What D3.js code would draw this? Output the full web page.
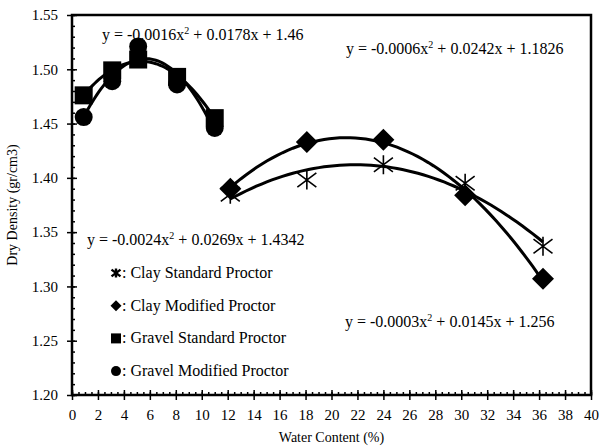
<!DOCTYPE html>
<html>
<head>
<meta charset="utf-8">
<script src="https://cdn.jsdelivr.net/npm/d3@7"></script>
<style>
  body { margin: 0; background: #fff; }
  svg, svg text { font-family: "Liberation Serif", "Times New Roman", serif; }
</style>
</head>
<body>
<div id="chart"></div>
<script>
(function () {
  'use strict';

  // data
  var gravelX = [0.9, 3.1, 5.1, 8.1, 11.0];
  var gravelStd = [1.476, 1.499, 1.509, 1.493, 1.455];
  var gravelMod = [1.456, 1.489, 1.521, 1.486, 1.446];
  var clayX = [12.2, 18.1, 24.0, 30.3, 36.3];
  var clayStd = [1.385, 1.398, 1.412, 1.395, 1.337];
  var clayMod = [1.390, 1.433, 1.435, 1.384, 1.307];

  var xTicks = d3.range(0, 41, 2);
  var yTicks = [1.20, 1.25, 1.30, 1.35, 1.40, 1.45, 1.50, 1.55];

  var legendItems = [
    { name: ': Clay Standard Proctor', marker: 'star' },
    { name: ': Clay Modified Proctor', marker: 'diamond' },
    { name: ': Gravel Standard Proctor', marker: 'square' },
    { name: ': Gravel Modified Proctor', marker: 'circle' }
  ];

  var equations = [
    { a: '-0.0016', b: '0.0178', c: '1.46', x: 102, y: 40 },
    { a: '-0.0006', b: '0.0242', c: '1.1826', x: 346, y: 54 },
    { a: '-0.0024', b: '0.0269', c: '1.4342', x: 87, y: 245 },
    { a: '-0.0003', b: '0.0145', c: '1.256', x: 345, y: 327 }
  ];

  var width = 599, height = 448;
  var margin = { top: 15, right: 8, bottom: 53, left: 72 };
  var serif = '"Liberation Serif", "Times New Roman", serif';

  var svg = d3.select('#chart').append('svg')
    .attr('width', width).attr('height', height)
    .attr('font-family', serif);

  var x = d3.scaleLinear().domain([0, 40]).range([margin.left, width - margin.right]);
  var y = d3.scaleLinear().domain([1.2, 1.55]).range([height - margin.bottom, margin.top]);

  // quadratic least squares, like a spreadsheet trendline
  function polyFit(xs, ys) {
    var s = [0, 0, 0, 0, 0], t = [0, 0, 0];
    xs.forEach(function (xv, i) {
      for (var k = 0; k < 5; k++) s[k] += Math.pow(xv, k);
      for (var j = 0; j < 3; j++) t[j] += ys[i] * Math.pow(xv, j);
    });
    var m = [[s[0], s[1], s[2], t[0]], [s[1], s[2], s[3], t[1]], [s[2], s[3], s[4], t[2]]];
    for (var c = 0; c < 3; c++) {
      for (var r = c + 1; r < 3; r++) {
        var f = m[r][c] / m[c][c];
        for (var q = c; q < 4; q++) m[r][q] -= f * m[c][q];
      }
    }
    var coef = [0, 0, 0];
    for (var r2 = 2; r2 >= 0; r2--) {
      var v = m[r2][3];
      for (var q2 = r2 + 1; q2 < 3; q2++) v -= m[r2][q2] * coef[q2];
      coef[r2] = v / m[r2][r2];
    }
    return function (xv) { return coef[0] + coef[1] * xv + coef[2] * xv * xv; };
  }

  // frame
  svg.append('rect')
    .attr('x', x(0)).attr('y', y(1.55))
    .attr('width', x(40) - x(0)).attr('height', y(1.2) - y(1.55))
    .attr('fill', 'none').attr('stroke', '#000').attr('stroke-width', 2.5);

  // x axis: labels + outward major, inward major, inward minor
  var gx = svg.append('g').attr('transform', 'translate(0,' + y(1.2) + ')');
  gx.call(d3.axisBottom(x).tickValues(xTicks).tickSize(5).tickPadding(9).tickFormat(d3.format('d')));
  gx.append('g').call(d3.axisBottom(x).tickValues(xTicks).tickSize(-5).tickFormat(''));
  gx.append('g').call(d3.axisBottom(x).tickValues(d3.range(0, 40.01, 0.5)).tickSize(-3).tickFormat(''));

  var gy = svg.append('g').attr('transform', 'translate(' + x(0) + ',0)');
  gy.call(d3.axisLeft(y).tickValues(yTicks).tickSize(5).tickPadding(9).tickFormat(d3.format('.2f')));
  gy.append('g').call(d3.axisLeft(y).tickValues(yTicks).tickSize(-5).tickFormat(''));
  gy.append('g').call(d3.axisLeft(y).tickValues(d3.range(120, 155.01, 1).map(function (v) { return v / 100; })).tickSize(-3).tickFormat(''));

  gx.attr('font-family', serif).attr('font-size', 15);
  gy.attr('font-family', serif).attr('font-size', 15);
  svg.selectAll('.domain').remove();
  svg.selectAll('.tick line').attr('stroke', '#000').attr('stroke-width', 1.5);
  svg.selectAll('.tick text').attr('fill', '#000').style('font-family', serif);

  // axis titles
  svg.append('text')
    .attr('x', (x(0) + x(40)) / 2).attr('y', 442)
    .attr('text-anchor', 'middle').attr('font-size', '14px')
    .text('Water Content (%)');
  svg.append('text')
    .attr('transform', 'translate(17,' + (y(1.2) + y(1.55)) / 2 + ') rotate(-90)')
    .attr('text-anchor', 'middle').attr('font-size', '14px')
    .text('Dry Density (gr/cm3)');

  // trendlines
  var series = [
    { xs: gravelX, ys: gravelStd, marker: 'square' },
    { xs: gravelX, ys: gravelMod, marker: 'circle' },
    { xs: clayX, ys: clayStd, marker: 'star' },
    { xs: clayX, ys: clayMod, marker: 'diamond' }
  ];

  var line = d3.line().x(function (d) { return x(d[0]); }).y(function (d) { return y(d[1]); });
  series.forEach(function (s) {
    var fit = polyFit(s.xs, s.ys);
    var lo = d3.min(s.xs), hi = d3.max(s.xs);
    var pts = d3.range(0, 61).map(function (i) {
      var xv = lo + (hi - lo) * i / 60;
      return [xv, fit(xv)];
    });
    svg.append('path').attr('d', line(pts))
      .attr('fill', 'none').attr('stroke', '#000').attr('stroke-width', 3);
  });

  function drawMarker(g, type, size) {
    if (type === 'square') {
      g.append('rect').attr('x', -size / 2).attr('y', -size / 2)
        .attr('width', size).attr('height', size).attr('fill', '#000');
    } else if (type === 'circle') {
      g.append('circle').attr('r', size / 2).attr('fill', '#000');
    } else if (type === 'diamond') {
      var h = size / 2;
      g.append('path').attr('d', 'M0,' + (-h) + 'L' + h + ',0L0,' + h + 'L' + (-h) + ',0Z').attr('fill', '#000');
    } else if (type === 'star') {
      var r = size / 2;
      g.append('path')
        .attr('d', 'M0,' + (-r) + 'V' + r + 'M' + (-r) + ',' + (-r * 0.75) + 'L' + r + ',' + (r * 0.75) +
          'M' + (-r) + ',' + (r * 0.75) + 'L' + r + ',' + (-r * 0.75))
        .attr('stroke', '#000').attr('stroke-width', size > 12 ? 1.6 : 2.4).attr('fill', 'none');
    }
  }

  var markerSize = { square: 18, circle: 18, diamond: 22, star: 19 };
  series.forEach(function (s) {
    s.xs.forEach(function (xv, i) {
      var g = svg.append('g').attr('transform', 'translate(' + x(xv) + ',' + y(s.ys[i]) + ')');
      drawMarker(g, s.marker, markerSize[s.marker]);
    });
  });

  // equations
  equations.forEach(function (e) {
    var t = svg.append('text').attr('x', e.x).attr('y', e.y).attr('font-size', '16px');
    t.append('tspan').text('y = ' + e.a + 'x');
    t.append('tspan').attr('dy', -6).attr('font-size', '10px').text('2');
    t.append('tspan').attr('dy', 6).text(' + ' + e.b + 'x + ' + e.c);
  });

  // legend
  var legendSizes = { star: 9, diamond: 11, square: 10, circle: 10 };
  legendItems.forEach(function (d, i) {
    var cy = 273 + i * 32.7;
    var g = svg.append('g').attr('transform', 'translate(116,' + cy + ')');
    drawMarker(g, d.marker, legendSizes[d.marker]);
    svg.append('text').attr('x', 122).attr('y', cy + 5)
      .attr('font-size', '16px').text(d.name);
  });
})();
</script>
</body>
</html>
